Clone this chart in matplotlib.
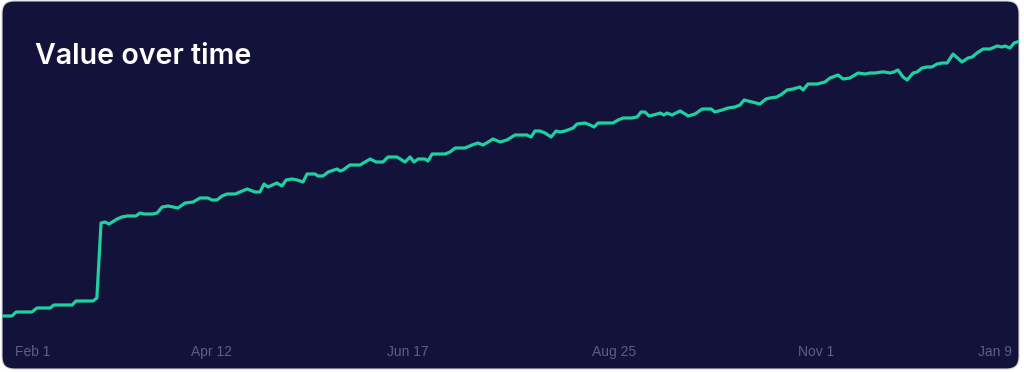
import matplotlib
matplotlib.use('Agg')
import matplotlib.pyplot as plt
from matplotlib.patches import FancyBboxPatch
from matplotlib.transforms import IdentityTransform, ScaledTranslation

# days since Feb 1
days = [0, 3.0, 4.4, 9.7, 11.4, 15.8, 17.1, 23.2, 24.5, 30.2, 31.5, 32.9, 34.2, 35.6, 38.3, 39.9, 41.6, 44.6, 46.0, 47.3,
        50.3, 51.7, 53.4, 55.4, 57.0,
        58.7, 61.1, 63.8, 66.1, 68.8, 70.1, 71.8, 73.5, 75.2, 77.9, 79.5, 81.9, 84.6, 86.2, 87.6, 88.9, 91.9, 93.6, 95.0,
        97.0, 98.7, 100.7, 102.0, 104.7, 105.7, 107.4, 109.1, 112.1, 113.1,
        114.1, 116.4, 119.8, 121.5, 123.2, 125.2, 127.5, 129.2, 132.2, 134.9, 136.6, 137.9, 139.3, 141.6, 142.6, 144.0,
        148.3, 150.0, 151.7, 155.0, 157.4, 159.4, 161.1, 162.8, 164.4, 166.8, 169.1, 171.8,
        172.5, 175.8, 177.2, 178.5, 180.2, 181.9, 183.9, 185.6, 186.9, 188.6, 191.3, 192.6, 195.3, 197.0, 198.3, 199.7,
        204.7, 206.4, 208.1, 211.1, 212.8, 214.1, 215.4, 216.8, 219.5, 220.5, 221.8, 222.8, 224.5, 225.8, 227.2, 228.9,
        229.9, 232.2, 234.6, 237.6, 238.9, 241.3, 243.3, 245.6, 247.3, 248.7, 251.3, 254.0, 256.0, 257.4, 259.7, 261.4,
        263.1, 265.1, 267.4, 268.5, 270.1, 273.2, 275.8, 277.5, 280.2, 281.9, 284.2,
        286.9, 289.3, 290.9, 292.6, 294.9, 295.9, 297.6, 298.9, 300.3, 302.0, 303.4, 305.4, 306.7, 308.4, 310.1, 311.7,
        313.4, 315.1, 316.8, 318.8, 321.8, 323.8, 325.2, 326.8, 328.9, 331.2, 333.6, 335.2, 336.2, 337.9, 339.3, 341.3,
        342.3]

values = [14, 14, 18, 18, 22, 22, 25, 25, 29, 29, 32, 107, 108, 106, 111, 113, 114, 114, 117, 116, 116, 117, 123, 124, 123,
          122, 127, 128, 132, 132, 130, 130, 134, 136, 136, 138, 141, 138, 138, 146, 143, 147, 144, 150, 151, 150, 148,
          156, 156, 154, 154, 158, 161, 159,
          160, 165, 165, 168, 171, 168, 168, 173, 173, 168, 173, 168, 171, 171, 169, 176, 176, 178, 182, 182, 185, 187,
          185, 188, 191, 188, 190, 195,
          195, 195, 193, 199, 199, 197, 193, 199, 198, 199, 202, 206, 207, 205, 203, 207, 207, 210, 212, 212, 213, 218,
          218, 214, 216, 217, 215, 217, 215, 217, 219, 216,
          214, 216, 221, 221, 218, 220, 222, 223, 225, 230, 228, 226, 231, 232, 233, 236, 240, 241, 243, 240, 246, 246,
          248, 252, 255, 251, 252,
          257, 256, 257, 257, 258, 258, 257, 258, 260, 253, 250, 257, 258, 262, 263, 263, 266, 267, 267, 276, 268, 272,
          273, 277, 281, 281, 284, 283, 284, 282, 287, 289, 289]

tick_days = [0, 70, 136, 205, 273, 342]
tick_labels = ['Feb 1', 'Apr 12', 'Jun 17', 'Aug 25', 'Nov 1', 'Jan 9']

bg = '#13123a'
line_color = '#1fd1a1'
label_color = '#5d5f86'

fig = plt.figure(figsize=(10.24, 3.72), dpi=100, facecolor='white')

# rounded card behind everything, in pixel coords
card = FancyBboxPatch((2, 3), 1017, 368, boxstyle='round,pad=0,rounding_size=12',
                      transform=IdentityTransform(), facecolor=bg, edgecolor='#d4d4dc', linewidth=0.8)
card.set_zorder(-1)
fig.add_artist(card)

ax = fig.add_axes([0, 40 / 372, 1, 332 / 372])
ax.set_facecolor('none')
line, = ax.plot(days, values, color=line_color, linewidth=2.3, solid_joinstyle='round')
line.set_clip_path(card)

ax.set_xlim(-1.007, 342.6)
ax.set_ylim(-2, 330)
ax.set_yticks([])
ax.set_xticks(tick_days)
ax.set_xticklabels(tick_labels, fontsize=10, color=label_color, family=['Liberation Sans', 'DejaVu Sans'])
ax.tick_params(axis='x', length=0, pad=9.5)
for s in ax.spines.values():
    s.set_visible(False)

labels = ax.get_xticklabels()
labels[0].set_ha('left')
labels[0].set_transform(labels[0].get_transform() + ScaledTranslation(0.12, 0, fig.dpi_scale_trans))
labels[-1].set_ha('right')
labels[-1].set_transform(labels[-1].get_transform() + ScaledTranslation(-0.10, 0, fig.dpi_scale_trans))

fig.text(35 / 1024, 1 - 64 / 372, 'Value over time', color='white', fontsize=20.6, fontweight='semibold',
         family=['Inter', 'DejaVu Sans'], va='baseline', ha='left')

plt.savefig('out.png', dpi=100, facecolor='white')
